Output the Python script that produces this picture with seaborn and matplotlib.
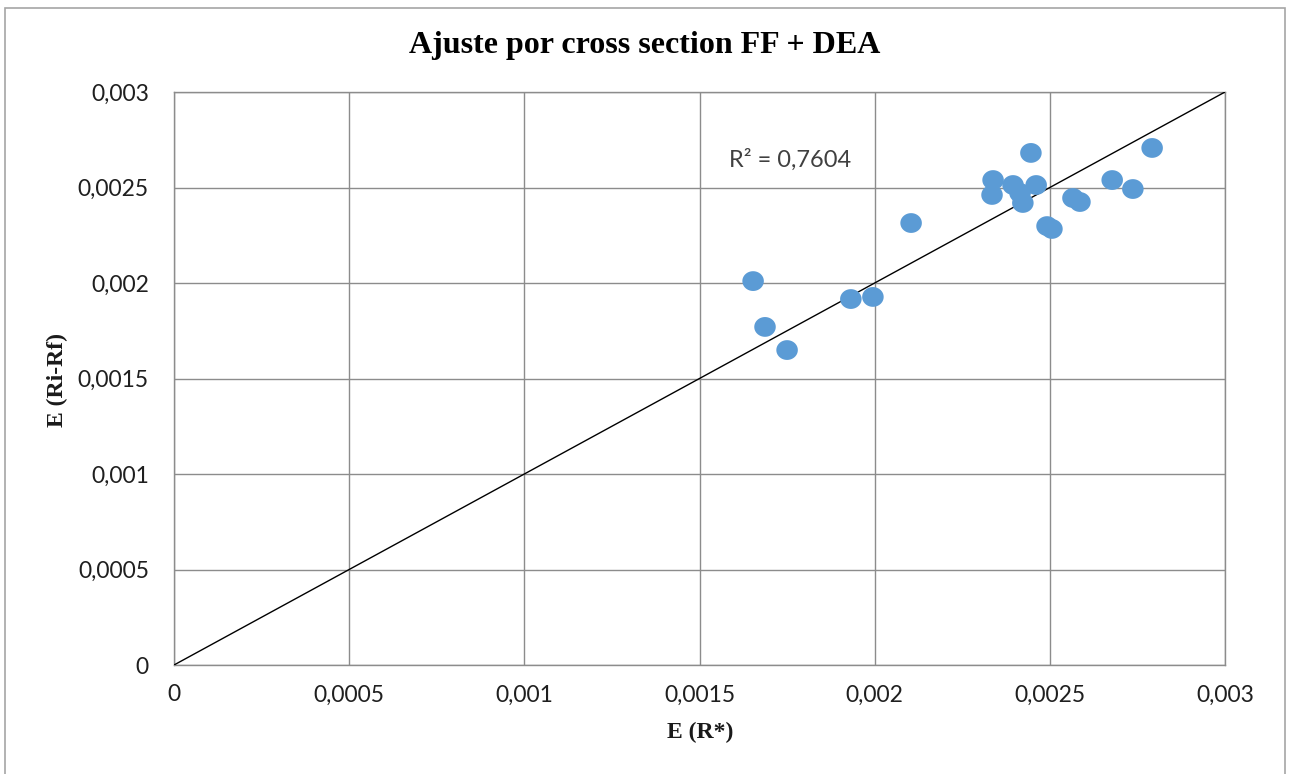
import numpy as np
import pandas as pd
import matplotlib
matplotlib.use("Agg")
import matplotlib.pyplot as plt
from matplotlib.patches import Rectangle
from matplotlib.path import Path
from matplotlib.ticker import FixedLocator, FuncFormatter
import seaborn as sns

# Expected market-implied return vs expected excess return, one point per portfolio
e_r_star = [0.001653, 0.001687, 0.001750, 0.001932, 0.001995, 0.002104,
            0.002338, 0.002335, 0.002395, 0.002415, 0.002423, 0.002446,
            0.002461, 0.002492, 0.002506, 0.002566, 0.002586, 0.002678,
            0.002737, 0.002792]
e_ri_rf = [0.002010, 0.001770, 0.001649, 0.001916, 0.001927, 0.002314,
           0.002539, 0.002461, 0.002513, 0.002471, 0.002419, 0.002681,
           0.002513, 0.002298, 0.002283, 0.002445, 0.002424, 0.002539,
           0.002492, 0.002707]

# Trend line through the origin and its fit statistic
trend_x = [0.0, 0.003]
trend_slope = 1.0
r_squared = 0.7604

axis_ticks = [0, 0.0005, 0.001, 0.0015, 0.002, 0.0025, 0.003]

title = "Ajuste por cross section FF + DEA"
x_label = "E (R*)"
y_label = "E (Ri-Rf)"

df = pd.DataFrame({"x": e_r_star, "y": e_ri_rf})
trend = pd.DataFrame({"x": trend_x, "y": [trend_slope * v for v in trend_x]})

sns.set_style("white")
plt.rcParams["font.family"] = ["Lato", "DejaVu Sans"]

W, H = 1293, 774
fig = plt.figure(figsize=(W / 100, H / 100), dpi=100)
fig.patch.set_facecolor("white")

# Outer chart frame
fig.patches.append(Rectangle((5 / W, -0.02), (1285 - 5) / W, 1 - 8 / H + 0.02,
                             transform=fig.transFigure, fill=False,
                             edgecolor="#a6a6a6", linewidth=1.2))

left, right, top, bottom = 174, 1225, 92, 665
ax = fig.add_axes([left / W, 1 - bottom / H, (right - left) / W, (bottom - top) / H])

grid_col = "#8c8c8c"
ax.set_xlim(0, 0.003)
ax.set_ylim(0, 0.003)
ax.xaxis.set_major_locator(FixedLocator(axis_ticks))
ax.yaxis.set_major_locator(FixedLocator(axis_ticks))
fmt = FuncFormatter(lambda v, _: f"{v:g}".replace(".", ","))
ax.xaxis.set_major_formatter(fmt)
ax.yaxis.set_major_formatter(fmt)
ax.grid(True, color=grid_col, linewidth=1.0)
ax.set_axisbelow(True)
for s in ax.spines.values():
    s.set_visible(True)
    s.set_color(grid_col)
    s.set_linewidth(1.0)

ax.tick_params(axis="both", length=0, labelsize=16.5, colors="#1f1f1f")
ax.tick_params(axis="x", pad=14)
ax.tick_params(axis="y", pad=18)

# Slightly wide ellipse marker
t = np.linspace(0, 2 * np.pi, 60)
ell = Path(np.column_stack([np.cos(t) * 1.0, np.sin(t) * 0.92]))

sns.lineplot(data=trend, x="x", y="y", ax=ax, color="black", linewidth=1.0,
             zorder=3)
sns.scatterplot(data=df, x="x", y="y", ax=ax, color="#5b9bd5", s=240,
                marker=ell, edgecolor="none", linewidth=0, zorder=4)

ax.text(0.001758, 0.002644, f"R² = {r_squared:.4f}".replace(".", ","),
        ha="center", va="center", fontsize=17, color="#404040", zorder=5)

serif = ["Liberation Serif", "DejaVu Serif"]
ax.set_xlabel(x_label, family=serif, fontweight="bold", fontsize=17,
              color="#1a1a1a", va="center")
ax.xaxis.set_label_coords(0.5005, (665 - 732) / 573)
ax.set_ylabel(y_label, family=serif, fontweight="bold", fontsize=17,
              color="#1a1a1a", va="center")
ax.yaxis.set_label_coords((57 - 174) / 1051, 0.497)

fig.text(645 / W, 1 - 45 / H, title, ha="center", va="center",
         family=serif, fontweight="bold", fontsize=23, color="black")

fig.savefig("out.png", dpi=100, facecolor="white")
